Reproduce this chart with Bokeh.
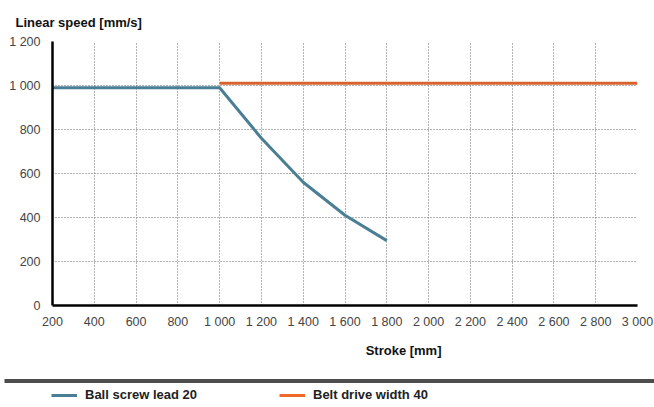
from bokeh.plotting import figure
from bokeh.layouts import column
from bokeh.models import Range1d, FixedTicker, Label, Legend, LegendItem, BoxAnnotation
from bokeh.embed import file_html
from bokeh.resources import INLINE

# Data
stroke_ball = [200, 1000, 1200, 1400, 1600, 1800]
speed_ball = [990, 990, 760, 560, 410, 295]
stroke_belt = [1000, 3000]
speed_belt = [1010, 1010]

x_ticks = [200, 400, 600, 800, 1000, 1200, 1400, 1600, 1800, 2000, 2200, 2400, 2600, 2800, 3000]
y_ticks = [0, 200, 400, 600, 800, 1000, 1200]

name_ball = "Ball screw lead 20"
name_belt = "Belt drive width 40"
title_y = "Linear speed [mm/s]"
title_x = "Stroke [mm]"

BLUE = "#4a7e95"
ORANGE = "#d8632f"
ORANGE_LEGEND = "#ee6a26"
FONT = "Liberation Sans"


def fmt(v):
    return f"{v:,}".replace(",", " ")


p = figure(width=654, height=335, output_backend="svg", toolbar_location=None,
           x_range=Range1d(200, 3000), y_range=Range1d(0, 1200),
           min_border_left=52, min_border_right=17, min_border_top=41, min_border_bottom=30)
p.frame_align = False
p.outline_line_color = None
p.background_fill_color = "white"
p.border_fill_color = "white"

p.title.text = title_y
p.title.align = "left"
p.title.offset = -37
p.title.standoff = 23
p.title.text_font = FONT
p.title.text_font_size = "13px"
p.title.text_font_style = "bold"
p.title.text_color = "#111111"

for ax, ticks in ((p.xaxis[0], x_ticks), (p.yaxis[0], y_ticks)):
    ax.ticker = FixedTicker(ticks=ticks)
    ax.major_label_overrides = {v: fmt(v) for v in ticks}
    ax.axis_line_color = "black"
    ax.axis_line_width = 2.5
    ax.major_tick_line_color = None
    ax.minor_tick_line_color = None
    ax.major_tick_out = 0
    ax.major_tick_in = 0
    ax.major_label_text_font = FONT
    ax.major_label_text_font_size = "12.5px"
    ax.major_label_text_color = "#444444"
p.yaxis.major_label_standoff = 12
p.xaxis.major_label_standoff = 9

p.xgrid.ticker = FixedTicker(ticks=x_ticks)
p.ygrid.ticker = FixedTicker(ticks=y_ticks)
for g in (p.xgrid[0], p.ygrid[0]):
    g.grid_line_color = "#666666"
    g.grid_line_dash = "1 2"
    g.grid_line_width = 1

p.line(stroke_belt, speed_belt, line_color=ORANGE, line_width=3)
p.line(stroke_ball, speed_ball, line_color=BLUE, line_width=3)

# lower strip: axis title, separator bar and legend
p2 = figure(width=654, height=72, output_backend="svg", toolbar_location=None,
            x_axis_type=None, y_axis_type=None, min_border=0,
            x_range=Range1d(0, 1), y_range=Range1d(0, 1))
p2.frame_align = False
p2.outline_line_color = None
p2.grid.visible = False
p2.background_fill_color = "white"
p2.border_fill_color = "white"

p2.add_layout(Label(x=441, y=57, x_units="screen", y_units="screen", text=title_x,
                    text_font=FONT, text_font_size="13px", text_font_style="bold",
                    text_color="#111111", text_baseline="middle", text_align="right"))

p2.add_layout(BoxAnnotation(left=4, right=654, bottom=24.5, top=28.5,
                            left_units="screen", right_units="screen",
                            bottom_units="screen", top_units="screen",
                            fill_color="#4d4d4d", fill_alpha=1, line_color=None))

# legend swatches: the same series, drawn outside this strip's visible range
lr_ball = p2.line(stroke_ball, speed_ball, line_color=BLUE, line_width=3)
lr_belt = p2.line(stroke_belt, speed_belt, line_color=ORANGE_LEGEND, line_width=3)

for r, name, x in ((lr_ball, name_ball, 51), (lr_belt, name_belt, 279)):
    lg = Legend(items=[LegendItem(label=name, renderers=[r])], location=(x, 5),
                orientation="horizontal", glyph_width=26, glyph_height=14,
                label_standoff=8, padding=0, margin=0, spacing=0,
                border_line_color=None, background_fill_alpha=0,
                label_text_font=FONT, label_text_font_size="13px",
                label_text_font_style="bold", label_text_color="#222222",
                label_height=14)
    p2.add_layout(lg)

layout = column(p, p2, spacing=0)
open("out.html", "w").write(file_html(layout, INLINE))
